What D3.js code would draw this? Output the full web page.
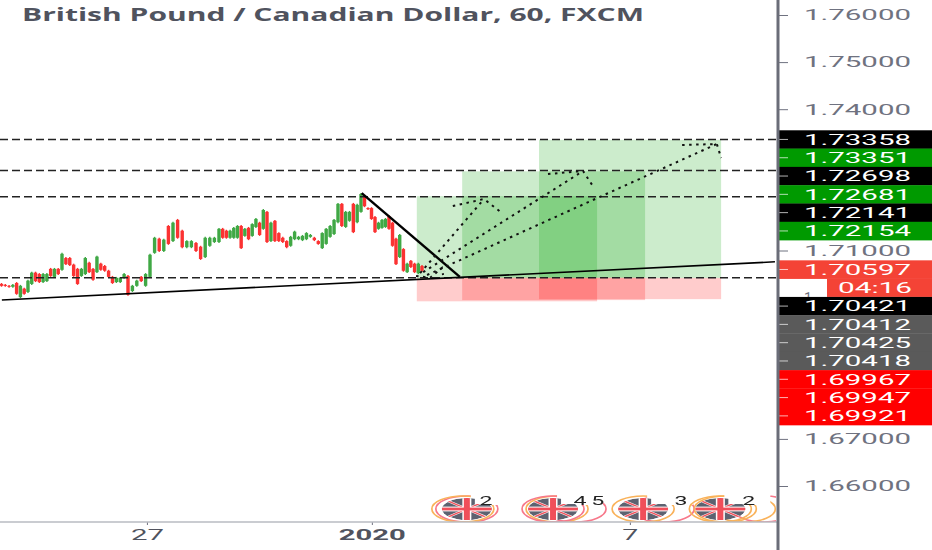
<!DOCTYPE html>
<html>
<head>
<meta charset="utf-8">
<script src="https://cdn.jsdelivr.net/npm/d3@7"></script>
<style>
html,body{margin:0;padding:0;background:#fff;overflow:hidden}
svg{display:block}
text{font-family:Roboto,"Open Sans",sans-serif}
</style>
</head>
<body>
<svg id="chart" width="932" height="550"></svg>
<script>
const title = "British Pound / Canadian Dollar, 60, FXCM";

const highs = [
1.7031,1.7029,1.7027,1.7029,1.7033,1.7027,1.7021,1.7038,1.7055,1.7055,
1.7052,1.7052,1.7052,1.7063,1.7063,1.7063,1.7095,1.7086,1.7086,1.7072,
1.7063,1.7063,1.7086,1.7076,1.7063,1.7089,1.7074,1.7069,1.7059,1.7046,
1.7044,1.7044,1.7052,1.7048,1.7027,1.7038,1.7046,1.7052,1.7093,1.7129,
1.7127,1.7125,1.7154,1.7161,1.7167,1.7144,1.7122,1.7122,1.7118,1.7110,
1.7129,1.7129,1.7129,1.7148,1.7148,1.7144,1.7144,1.7150,1.7154,1.7154,
1.7148,1.7150,1.7158,1.7169,1.7161,1.7188,1.7184,1.7161,1.7165,1.7139,
1.7129,1.7122,1.7131,1.7142,1.7131,1.7133,1.7139,1.7135,1.7129,1.7122,
1.7139,1.7148,1.7154,1.7167,1.7201,1.7201,1.7184,1.7184,1.7201,1.7199,
1.7222,1.7216,1.7192,1.7192,1.7173,1.7161,1.7167,1.7169,1.7175,1.7161,
1.7127,1.7135,1.7105,1.7074,1.7080,1.7074,1.7074,1.7069];

const lows = [
1.7023,1.7023,1.7021,1.7021,1.7006,1.6999,1.7006,1.7010,1.7027,1.7033,
1.7031,1.7031,1.7033,1.7044,1.7042,1.7048,1.7057,1.7069,1.7067,1.7044,
1.7027,1.7044,1.7048,1.7052,1.7036,1.7052,1.7057,1.7055,1.7042,1.7029,
1.7031,1.7031,1.7040,1.7004,1.7012,1.7023,1.7033,1.7023,1.7042,1.7093,
1.7097,1.7097,1.7112,1.7118,1.7125,1.7105,1.7105,1.7105,1.7097,1.7080,
1.7084,1.7108,1.7116,1.7116,1.7125,1.7125,1.7125,1.7125,1.7125,1.7103,
1.7129,1.7122,1.7129,1.7148,1.7131,1.7144,1.7116,1.7118,1.7118,1.7118,
1.7116,1.7105,1.7108,1.7122,1.7122,1.7120,1.7122,1.7127,1.7120,1.7112,
1.7103,1.7112,1.7127,1.7133,1.7158,1.7150,1.7148,1.7161,1.7137,1.7158,
1.7180,1.7192,1.7186,1.7165,1.7137,1.7144,1.7146,1.7148,1.7144,1.7108,
1.7069,1.7084,1.7055,1.7052,1.7063,1.7052,1.7050,1.7055];

const opens = [
1.7029,1.7027,1.7025,1.7023,1.7031,1.7001,1.7019,1.7012,1.7029,1.7053,
1.7050,1.7033,1.7035,1.7061,1.7044,1.7061,1.7059,1.7084,1.7084,1.7070,
1.7061,1.7046,1.7050,1.7074,1.7061,1.7054,1.7072,1.7067,1.7057,1.7044,
1.7033,1.7033,1.7042,1.7046,1.7014,1.7025,1.7044,1.7025,1.7044,1.7095,
1.7125,1.7099,1.7152,1.7120,1.7165,1.7142,1.7107,1.7107,1.7116,1.7108,
1.7086,1.7110,1.7118,1.7118,1.7146,1.7142,1.7127,1.7127,1.7127,1.7152,
1.7131,1.7148,1.7131,1.7150,1.7159,1.7146,1.7182,1.7120,1.7163,1.7137,
1.7127,1.7120,1.7110,1.7124,1.7124,1.7122,1.7124,1.7129,1.7127,1.7120,
1.7105,1.7114,1.7129,1.7135,1.7160,1.7199,1.7150,1.7163,1.7199,1.7160,
1.7182,1.7214,1.7190,1.7190,1.7171,1.7146,1.7148,1.7150,1.7173,1.7159,
1.7125,1.7086,1.7103,1.7054,1.7078,1.7072,1.7052,1.7067];

const closes = [
1.7025,1.7025,1.7023,1.7027,1.7008,1.7025,1.7008,1.7036,1.7053,1.7035,
1.7033,1.7050,1.7050,1.7046,1.7061,1.7050,1.7093,1.7071,1.7069,1.7046,
1.7029,1.7061,1.7084,1.7054,1.7038,1.7087,1.7059,1.7057,1.7044,1.7031,
1.7042,1.7042,1.7050,1.7006,1.7025,1.7036,1.7035,1.7050,1.7091,1.7127,
1.7099,1.7123,1.7114,1.7159,1.7127,1.7107,1.7120,1.7120,1.7099,1.7082,
1.7127,1.7127,1.7127,1.7146,1.7127,1.7127,1.7142,1.7148,1.7152,1.7105,
1.7146,1.7124,1.7156,1.7167,1.7133,1.7186,1.7118,1.7159,1.7120,1.7120,
1.7118,1.7107,1.7129,1.7140,1.7129,1.7131,1.7137,1.7133,1.7122,1.7114,
1.7137,1.7146,1.7152,1.7165,1.7199,1.7152,1.7182,1.7182,1.7139,1.7197,
1.7220,1.7194,1.7188,1.7167,1.7139,1.7159,1.7165,1.7167,1.7146,1.7110,
1.7071,1.7133,1.7057,1.7072,1.7065,1.7054,1.7072,1.7057];

// Price scale ticks (the rest sit behind the price tags) and time axis labels
const priceTicks = [1.66,1.67,1.70,1.71,1.74,1.75,1.76];
const timeTickBars = [37.3, 93.1, 160.3];
const timeTickLabels = ["27", "2020", "7"];

// Horizontal dashed levels
const levels = [1.73358, 1.72698, 1.72141, 1.70421];

// Long positions: start bar, end bar, target, entry, stop
const posStart  = [105.6, 117.3, 137.0];
const posEnd    = [151.9, 164.2, 183.7];
const posTarget = [1.72154, 1.72681, 1.73351];
const posEntry  = [1.70412, 1.70425, 1.70418];
const posStop   = [1.69921, 1.69947, 1.69967];

// Trend lines [bar, price]
const trendUp   = [[0.1, 1.6995], [197.5, 1.7076]];
const trendDown = [[90.2, 1.7222], [116.7, 1.7044]];

// Dotted projected paths with arrow heads [bar, price]
const dottedPaths = [
  [[106.5,1.7052],[122.9,1.72093]],
  [[114.9,1.71945],[122.9,1.72093],[127.5,1.71796]],
  [[107.3,1.7054],[148.3,1.72688]],
  [[139.3,1.72624],[148.3,1.72688],[150.8,1.72369]],
  [[108.3,1.7048],[182.6,1.73261]],
  [[173.7,1.7324],[182.6,1.73261],[183.7,1.72964]],
  [[105.4,1.7046],[109.1,1.7042],[112.1,1.7063],[112.4,1.7048]]
];

// Price tags on the scale
const tagPrices = [1.73358,1.73351,1.72698,1.72681,1.72141,1.72154,1.70597,1.70421,1.70412,1.70425,1.70418,1.69967,1.69947,1.69921];
const tagKinds  = ["k","g","k","g","k","g","o","k","s","s","s","r","r","r"];
const countdown = "04:16";

// Economic event markers and their counts
const eventBars   = [118.5, 140.6, 163.7, 183.5];
const countBars   = [123.4, 147.5, 152.1, 173.4, 190.8];
const countLabels = ["2", "4", "5", "3", "2"];

const W = 932, H = 550, axisX = 778, axisY = 522;
const tagColor = {k:"#000000", g:"#009a00", o:"#f44336", s:"#5a5a5a", r:"#ff0000"};

const x = d3.scaleLinear()
  .domain([0, 16, 33, 38, 53, 66, 84, 90, 100, 107, 300])
  .range([1.5, 62, 128, 150, 219, 267, 338, 361, 396, 422, 1174.7]);
const y = d3.scaleLinear().domain([1.66, 1.76]).range([486, 15]);

const svg = d3.select("#chart");
const defs = svg.append("defs");
defs.append("clipPath").attr("id","pane").append("rect").attr("width",axisX-2).attr("height",axisY);
defs.append("filter").attr("id","soft").attr("x","-5%").attr("y","-5%").attr("width","110%").attr("height","110%")
  .append("feGaussianBlur").attr("stdDeviation",0.55);

const pane = svg.append("g").attr("clip-path","url(#pane)");

// Position boxes
const boxes = pane.append("g");
posStart.forEach((s,i)=>{
  boxes.append("rect").attr("x",x(s)).attr("width",x(posEnd[i])-x(s))
    .attr("y",y(posTarget[i])).attr("height",y(posEntry[i])-y(posTarget[i]))
    .attr("fill","rgb(0,160,0)").attr("fill-opacity",0.2);
  boxes.append("rect").attr("x",x(s)).attr("width",x(posEnd[i])-x(s))
    .attr("y",y(posEntry[i])).attr("height",y(posStop[i])-y(posEntry[i]))
    .attr("fill","rgb(255,0,0)").attr("fill-opacity",0.2);
});

// Candles
const candles = pane.append("g").attr("filter","url(#soft)");
opens.forEach((o,i)=>{
  const c = closes[i], col = c>=o ? "#3fa845" : "#fb3030";
  candles.append("line").attr("x1",x(i)).attr("x2",x(i)).attr("y1",y(highs[i])).attr("y2",y(lows[i]))
    .attr("stroke",col).attr("stroke-width",1.4);
  candles.append("rect").attr("x",x(i)-1.7).attr("width",3.4)
    .attr("y",y(Math.max(o,c))).attr("height",Math.max(1,Math.abs(y(o)-y(c))))
    .attr("fill",col);
});

// Dashed levels
pane.selectAll("line.level").data(levels).join("line").attr("class","level")
  .attr("x1",0).attr("x2",axisX).attr("y1",d=>y(d)).attr("y2",d=>y(d))
  .attr("stroke","#222").attr("stroke-width",1.5).attr("stroke-dasharray","8,4");

// Trend lines
const ln = d3.line().x(d=>x(d[0])).y(d=>y(d[1]));
pane.append("path").attr("d",ln(trendUp)).attr("fill","none").attr("stroke","#000").attr("stroke-width",1.6);
pane.append("path").attr("d",ln(trendDown)).attr("fill","none").attr("stroke","#000").attr("stroke-width",2.4);

// Dotted paths
pane.selectAll("path.dot").data(dottedPaths).join("path").attr("class","dot")
  .attr("d",ln).attr("fill","none").attr("stroke","#111").attr("stroke-width",2).attr("stroke-dasharray","2.5,4.5");

// Event markers (the picture is stretched sideways, so they are wide ellipses)
const ev = pane.append("g").attr("filter","url(#soft)");
const ringSets = [
  [[-4,"#f9b25a"],[0,"#f7788a"]],
  [[0,"#f7788a"],[4,"#f9b25a"],[22,"#f7788a"]],
  [[0,"#f9b25a"],[20,"#f7788a"]],
  [[0,"#f9b25a"],[5,"#f9b25a"],[24,"#f9b25a"],[44,"#f7788a"]]
];
eventBars.forEach((b,i)=>{
  const cx = x(b), cy = 509, rx = 25, ry = 11;
  const id = "fl"+i;
  defs.append("clipPath").attr("id",id).append("ellipse").attr("cx",cx).attr("cy",cy).attr("rx",rx).attr("ry",ry);
  ringSets[i].slice().reverse().forEach(r=>{
    ev.append("ellipse").attr("cx",cx+r[0]).attr("cy",cy).attr("rx",31).attr("ry",13)
      .attr("fill","none").attr("stroke",r[1]).attr("stroke-width",1.7);
  });
  ev.append("rect").attr("x",cx+4).attr("y",cy-15).attr("width",46).attr("height",11).attr("fill","#fff");
  const f = ev.append("g").attr("clip-path",`url(#${id})`);
  f.append("ellipse").attr("cx",cx).attr("cy",cy).attr("rx",rx).attr("ry",ry).attr("fill","#5d6270");
  [[-26,-11,26,11],[-26,11,26,-11]].forEach(s=>{
    f.append("line").attr("x1",cx+s[0]).attr("y1",cy+s[1]).attr("x2",cx+s[2]).attr("y2",cy+s[3]).attr("stroke","#fff").attr("stroke-width",2.4);
    f.append("line").attr("x1",cx+s[0]).attr("y1",cy+s[1]).attr("x2",cx+s[2]).attr("y2",cy+s[3]).attr("stroke","#f0505a").attr("stroke-width",1.4);
  });
  f.append("rect").attr("x",cx-26).attr("y",cy-2.4).attr("width",52).attr("height",4.8).attr("fill","#fff");
  f.append("rect").attr("x",cx-4.5).attr("y",cy-12).attr("width",9).attr("height",24).attr("fill","#fff");
  f.append("rect").attr("x",cx-26).attr("y",cy-1.4).attr("width",52).attr("height",2.8).attr("fill","#f0505a");
  f.append("rect").attr("x",cx-3).attr("y",cy-12).attr("width",6).attr("height",24).attr("fill","#f0505a");
  ev.append("rect").attr("x",cx+8).attr("y",cy-13).attr("width",36).attr("height",8).attr("fill","#fff");
});
countBars.forEach((b,i)=>{
  ev.append("text").attr("x",x(b)).attr("y",505).attr("text-anchor","middle")
    .attr("font-size",13).attr("fill","#222").attr("textLength",13).attr("lengthAdjust","spacingAndGlyphs").text(countLabels[i]);
});

// Cover below time axis
svg.append("rect").attr("x",0).attr("y",axisY).attr("width",axisX).attr("height",H-axisY).attr("fill","#fff");

// Title
svg.append("text").attr("x",22).attr("y",21).style("font-family","'Open Sans'")
  .attr("font-weight",700).attr("font-size",17).attr("fill","#50535e")
  .attr("textLength",622).attr("lengthAdjust","spacingAndGlyphs").text(title);

// Price scale
const yAxis = svg.append("g").attr("transform",`translate(${axisX},0)`)
  .call(d3.axisRight(y).tickValues(priceTicks).tickFormat(d=>d===1.70?"1":d3.format(".5f")(d)).tickSize(10).tickPadding(16));
yAxis.select(".domain").remove();
yAxis.selectAll("line").attr("stroke","#6f7280").attr("stroke-width",1);
yAxis.selectAll("text").attr("font-size",15).attr("fill","#6f7280")
  .attr("textLength",d=>d===1.70?8:107).attr("lengthAdjust","spacingAndGlyphs");

// Price tags, stacked downward when they would overlap
const rowH = 18.3;
let prev = -100;
tagPrices.forEach((p,i)=>{
  let cy = Math.max(y(p), prev + rowH);
  const g = svg.append("g");
  g.append("rect").attr("x",axisX).attr("y",cy-rowH/2).attr("width",W-axisX).attr("height",rowH+0.3).attr("fill",tagColor[tagKinds[i]]);
  g.append("line").attr("x1",axisX).attr("x2",axisX+10).attr("y1",cy).attr("y2",cy).attr("stroke","#fff").attr("stroke-opacity",0.7);
  g.append("text").attr("x",804).attr("y",cy+5.3).attr("font-size",15).attr("fill","#fff")
    .attr("textLength",107).attr("lengthAdjust","spacingAndGlyphs").text(p.toFixed(5));
  prev = cy;
  if (tagKinds[i]==="o") {
    const cd = cy + rowH;
    g.append("rect").attr("x",827).attr("y",cd-rowH/2).attr("width",W-827).attr("height",rowH).attr("fill",tagColor.o);
    g.append("text").attr("x",838).attr("y",cd+5.3).attr("font-size",15).attr("fill","#fff")
      .attr("textLength",74).attr("lengthAdjust","spacingAndGlyphs").text(countdown);
    prev = cd;
  }
});

// Time axis
const tickLen = {"27":33,"2020":67,"7":16};
const xAxis = svg.append("g").attr("transform",`translate(0,${axisY})`)
  .call(d3.axisBottom(x).tickValues(timeTickBars).tickFormat((d,i)=>timeTickLabels[i]).tickSize(3).tickPadding(4));
xAxis.select(".domain").remove();
xAxis.selectAll("line").attr("stroke","#6f7280");
xAxis.selectAll("text").attr("font-size",15).attr("fill","#50535e")
  .attr("font-weight",(d,i)=>timeTickLabels[i]==="2020"?700:400)
  .attr("textLength",(d,i)=>tickLen[timeTickLabels[i]]).attr("lengthAdjust","spacingAndGlyphs");

// Frame lines
svg.append("line").attr("x1",0).attr("x2",axisX).attr("y1",axisY).attr("y2",axisY).attr("stroke","#b9bbc2").attr("stroke-width",1.5);
svg.append("line").attr("x1",axisX).attr("x2",axisX).attr("y1",0).attr("y2",H).attr("stroke","#6a6d78").attr("stroke-width",3);
</script>
</body>
</html>
